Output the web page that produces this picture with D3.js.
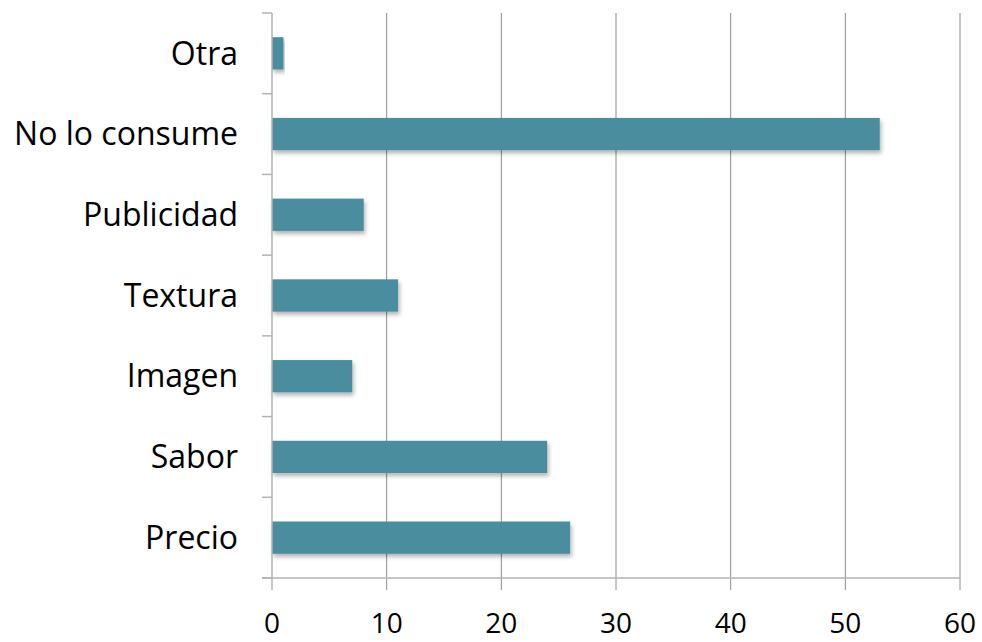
<!DOCTYPE html>
<html>
<head>
<meta charset="utf-8">
<script src="https://cdn.jsdelivr.net/npm/d3@7"></script>
<style>
  body { margin: 0; background: #fff; }
  svg { display: block; }
  text { font-family: "Open Sans", sans-serif; fill: #000; }
</style>
</head>
<body>
<svg id="chart" width="982" height="642"></svg>
<script>
const categories = ["Otra", "No lo consume", "Publicidad", "Textura", "Imagen", "Sabor", "Precio"];
const values = [1, 53, 8, 11, 7, 24, 26];
const xTicks = [0, 10, 20, 30, 40, 50, 60];

const margin = { top: 13, right: 22, bottom: 64, left: 272 };
const width = 982, height = 642;

const svg = d3.select("#chart");

const defs = svg.append("defs");
const shadow = defs.append("filter").attr("id", "shadow")
  .attr("x", "-5%").attr("y", "-20%").attr("width", "115%").attr("height", "160%");
shadow.append("feDropShadow")
  .attr("dx", 1.5).attr("dy", 3).attr("stdDeviation", 2)
  .attr("flood-color", "#000").attr("flood-opacity", 0.3);

const x = d3.scaleLinear().domain([0, 60]).range([margin.left, width - margin.right]);
const y = d3.scaleBand().domain(categories)
  .range([margin.top, height - margin.bottom]).paddingInner(0.6).paddingOuter(0.3);
const bandAll = d3.scaleBand().domain(categories).range([margin.top, height - margin.bottom]);
const y0 = margin.top, y1 = height - margin.bottom;

// vertical gridlines + bottom ticks
svg.append("g").selectAll("line").data(xTicks.slice(1)).join("line")
  .attr("x1", d => x(d)).attr("x2", d => x(d))
  .attr("y1", y0).attr("y2", y1 + 12)
  .attr("stroke", "#8c8c8c").attr("stroke-width", 1);

// bars
svg.append("g").selectAll("rect").data(values).join("rect")
  .attr("x", x(0))
  .attr("y", (d, i) => y(categories[i]))
  .attr("width", d => x(d) - x(0))
  .attr("height", y.bandwidth())
  .attr("fill", "#488d9f")
  .attr("filter", "url(#shadow)");

// y axis with ticks between categories
const axisColor = "#b3b3b3";
svg.append("line")
  .attr("x1", x(0)).attr("x2", x(0)).attr("y1", y0).attr("y2", y1 + 12)
  .attr("stroke", axisColor).attr("stroke-width", 1.5);
const bounds = categories.map(c => bandAll(c)).concat([y1]);
svg.append("g").selectAll("line").data(bounds).join("line")
  .attr("x1", x(0) - 10).attr("x2", x(0))
  .attr("y1", d => d).attr("y2", d => d)
  .attr("stroke", axisColor).attr("stroke-width", 1.5);

// x axis line
svg.append("line")
  .attr("x1", x(0) - 10).attr("x2", x(60)).attr("y1", y1).attr("y2", y1)
  .attr("stroke", axisColor).attr("stroke-width", 1.5);

// labels
svg.append("g").selectAll("text").data(categories).join("text")
  .attr("x", x(0) - 34)
  .attr("y", d => bandAll(d) + bandAll.bandwidth() / 2)
  .attr("dy", "0.35em")
  .attr("text-anchor", "end")
  .attr("font-size", 32)
  .text(d => d);

svg.append("g").selectAll("text").data(xTicks).join("text")
  .attr("x", d => x(d))
  .attr("y", 633)
  .attr("text-anchor", "middle")
  .attr("font-size", 28)
  .text(d => d);
</script>
</body>
</html>
